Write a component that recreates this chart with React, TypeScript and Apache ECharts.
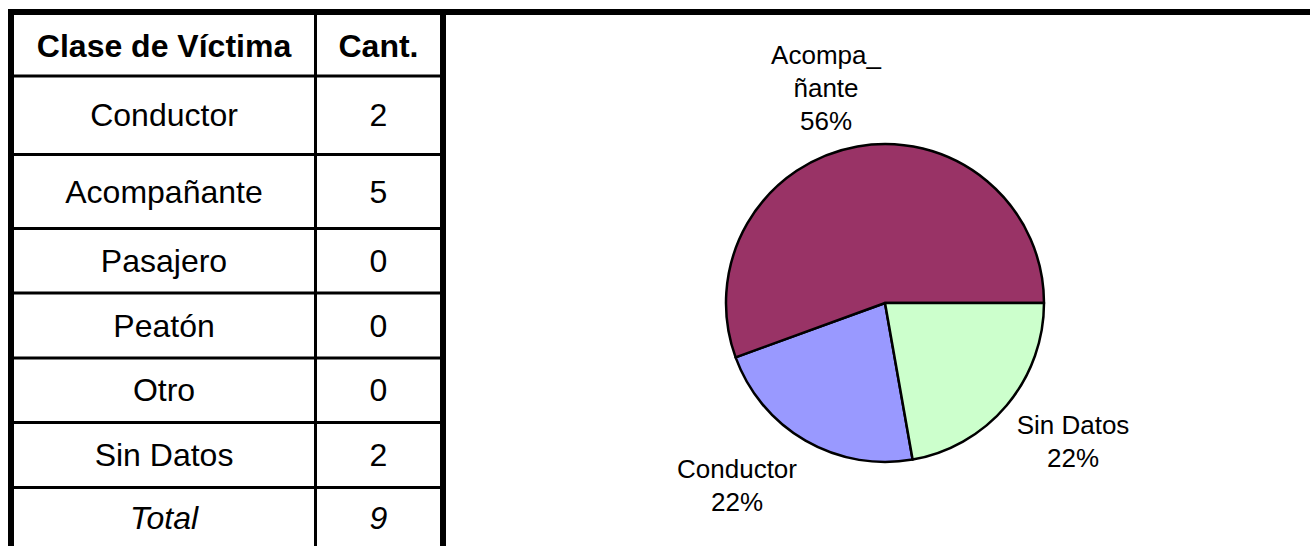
import React, { useEffect, useRef } from "react";
import * as echarts from "echarts";

// ---- data ----
const headers = ["Clase de Víctima", "Cant."];
const categories = ["Conductor", "Acompañante", "Pasajero", "Peatón", "Otro", "Sin Datos"];
const counts = [2, 5, 0, 0, 0, 2];
const totalLabel = "Total";
const sliceColors: Record<string, string> = {
  Conductor: "#9999FF",
  "Acompañante": "#993366",
  "Sin Datos": "#CCFFCC",
};
const pieLabelText: Record<string, string> = {
  Conductor: "Conductor",
  "Acompañante": "Acompa_\nñante",
  "Sin Datos": "Sin Datos",
};

// ---- layout ----
const FONT = "'Liberation Sans', Arial, sans-serif";
const rowBounds = [15, 76, 154.5, 228.5, 293, 358, 422.5, 487.5, 548];
const tableLeft = 8;
const tableRight = 446;
const colDivider = 315.5;
const col1Center = 164;
const col2Center = 378.5;
const labelPos: Record<string, [number, number]> = {
  Conductor: [737, 485],
  "Acompañante": [826, 88],
  "Sin Datos": [1073, 441.5],
};

function buildTable() {
  const els: any[] = [];
  // outer thick borders
  els.push({ type: "rect", shape: { x: tableLeft, y: 9, width: 1310 - tableLeft, height: 6 }, style: { fill: "#000" } });
  els.push({ type: "rect", shape: { x: tableLeft, y: 9, width: 6, height: 546 }, style: { fill: "#000" } });
  els.push({ type: "rect", shape: { x: tableRight - 6, y: 9, width: 6, height: 546 }, style: { fill: "#000" } });
  // column divider
  els.push({ type: "rect", shape: { x: colDivider - 1.5, y: 15, width: 3, height: 540 }, style: { fill: "#000" } });
  // row separators
  for (let i = 1; i < rowBounds.length - 1; i++) {
    els.push({
      type: "rect",
      shape: { x: tableLeft + 6, y: rowBounds[i] - 1.5, width: tableRight - tableLeft - 12, height: 3 },
      style: { fill: "#000" },
    });
  }
  const total = counts.reduce((a, b) => a + b, 0);
  const rows: { a: string; b: string; weight: string; style: string }[] = [
    { a: headers[0], b: headers[1], weight: "bold", style: "normal" },
    ...categories.map((c, i) => ({ a: c, b: String(counts[i]), weight: "normal", style: "normal" })),
    { a: totalLabel, b: String(total), weight: "normal", style: "italic" },
  ];
  rows.forEach((r, i) => {
    const cy = (rowBounds[i] + rowBounds[i + 1]) / 2;
    const base = {
      fill: "#000",
      fontFamily: FONT,
      fontSize: 32,
      fontWeight: r.weight,
      fontStyle: r.style,
      align: "center",
      verticalAlign: "middle",
    };
    els.push({ type: "text", x: col1Center, y: cy, style: { ...base, text: r.a } });
    els.push({ type: "text", x: col2Center, y: cy, style: { ...base, text: r.b } });
  });
  return els;
}

export default function App() {
  const ref = useRef<HTMLDivElement>(null);
  useEffect(() => {
    if (!ref.current) return;
    const chart = echarts.init(ref.current, null, { renderer: "svg" });
    const pieData = categories
      .map((c, i) => ({ name: c, value: counts[i] }))
      .filter((d) => d.value > 0)
      .map((d) => ({ ...d, itemStyle: { color: sliceColors[d.name] } }));
    chart.setOption({
      animation: false,
      backgroundColor: "#fff",
      graphic: { elements: buildTable() },
      series: [
        {
          type: "pie",
          center: [885, 303],
          radius: [0, 159],
          startAngle: 280,
          clockwise: true,
          percentPrecision: 0,
          data: pieData,
          itemStyle: { borderColor: "#000", borderWidth: 2.5 },
          emphasis: { disabled: true },
          labelLine: { show: false },
          label: {
            show: true,
            position: "outside",
            formatter: (p: any) => `${pieLabelText[p.name]}\n${p.percent}%`,
            fontFamily: FONT,
            fontSize: 26,
            lineHeight: 33,
            color: "#000",
            align: "center",
          },
          labelLayout: (params: any) => {
            const name = pieData[params.dataIndex].name;
            const pos = labelPos[name];
            return { x: pos[0], y: pos[1], align: "center", verticalAlign: "middle" };
          },
        },
      ],
    });
    return () => chart.dispose();
  }, []);
  return (
    <div
      ref={ref}
      style={{ position: "absolute", left: 0, top: 0, width: 1310, height: 546, background: "#fff" }}
    />
  );
}
